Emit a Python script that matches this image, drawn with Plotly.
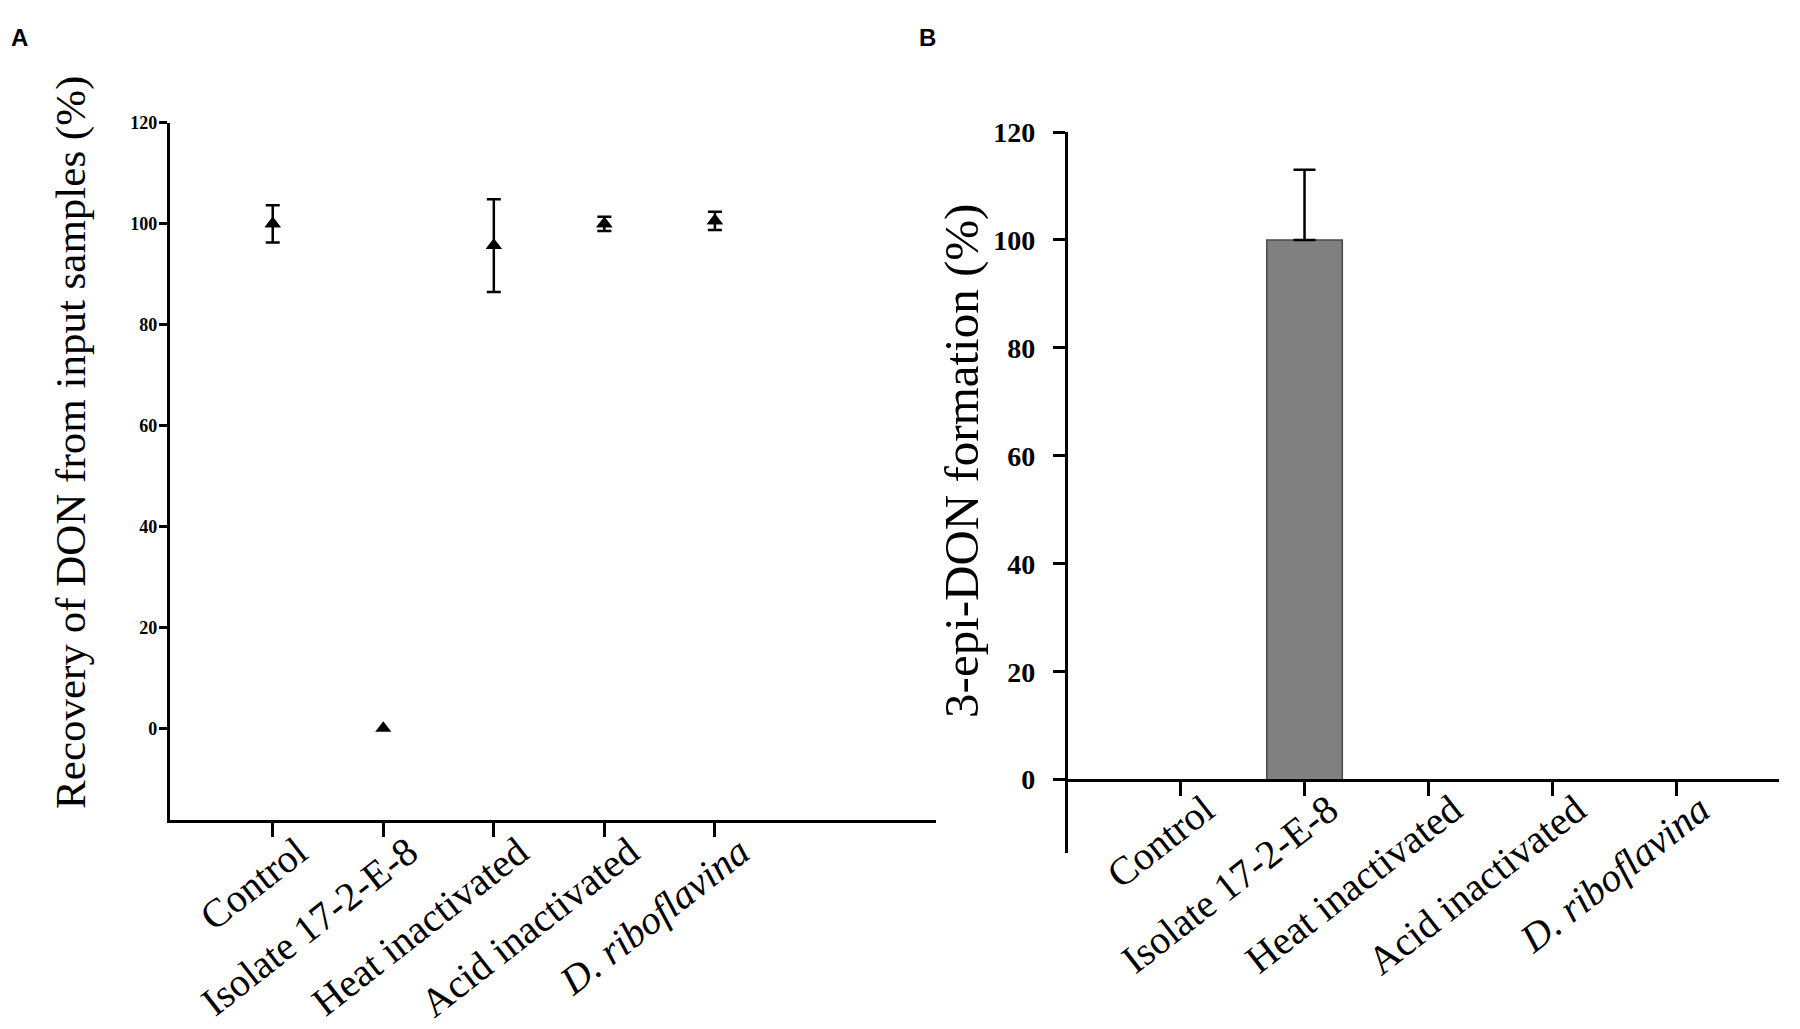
import plotly.graph_objects as go

# categories shared by both panels
categories = ["Control", "Isolate 17-2-E-8", "Heat inactivated", "Acid inactivated", "<i>D. riboflavina</i>"]

# panel A: recovery of DON (%)
recovery_mean = [100.0, 0.0, 95.7, 100.0, 100.6]
recovery_err = [3.7, None, 9.2, 1.4, 1.8]

# panel B: 3-epi-DON formation (%)
epi_mean = [0, 100, 0, 0, 0]
epi_err = [None, 13, None, None, None]

y_ticks = [0, 20, 40, 60, 80, 100, 120]

serif = "Liberation Serif"
ink = "black"

W, H = 1800, 1029

ya_range = [-18.2, 120]
yb_range = [-13.6, 120]
yb_dom = [0.1710, 0.8717]
# x axis of panel B sits at y = 0
xb_pos = yb_dom[0] + (0 - yb_range[0]) / (yb_range[1] - yb_range[0]) * (yb_dom[1] - yb_dom[0])

# only points that have an error value get an error bar
a_idx = [i for i, e in enumerate(recovery_err) if e is not None]
b_idx = [i for i, e in enumerate(epi_err) if e is not None]

fig = go.Figure()

fig.add_trace(go.Scatter(
    x=categories, y=recovery_mean, mode="markers",
    marker=dict(symbol="triangle-up", size=14, color=ink),
    xaxis="x", yaxis="y", showlegend=False, cliponaxis=False,
))
fig.add_trace(go.Scatter(
    x=[categories[i] for i in a_idx], y=[recovery_mean[i] for i in a_idx], mode="markers",
    marker=dict(symbol="triangle-up", size=14, color=ink),
    error_y=dict(type="data", array=[recovery_err[i] for i in a_idx], visible=True,
                 color=ink, thickness=2.5, width=7),
    xaxis="x", yaxis="y", showlegend=False, cliponaxis=False,
))

fig.add_trace(go.Bar(
    x=categories, y=epi_mean, width=0.61,
    marker=dict(color="#808080",
                line=dict(color="#4a4a4a", width=[1.5 if v > 0 else 0 for v in epi_mean])),
    xaxis="x2", yaxis="y2", showlegend=False,
))
fig.add_trace(go.Scatter(
    x=[categories[i] for i in b_idx], y=[epi_mean[i] for i in b_idx], mode="markers",
    marker=dict(size=1, opacity=0, color=ink),
    error_y=dict(type="data", array=[epi_err[i] for i in b_idx], symmetric=False,
                 arrayminus=[0] * len(b_idx), visible=True, color=ink, thickness=2.5, width=11),
    xaxis="x2", yaxis="y2", showlegend=False,
))

# automargin off: labels may hang into the zero margins without shrinking the plot areas
axis_common = dict(showline=True, linecolor=ink, linewidth=3, ticks="outside",
                   tickcolor=ink, tickwidth=2.5, showgrid=False, zeroline=False,
                   automargin=False)

fig.update_layout(
    width=W, height=H, autosize=False,
    margin=dict(l=0, r=0, t=0, b=0),
    paper_bgcolor="white", plot_bgcolor="white",
    xaxis=dict(domain=[0.0944, 0.52], anchor="y", range=[-0.93, 6.0], ticklen=14,
               tickangle=-38, ticklabelstandoff=-24, ticklabelshift=25,
               tickfont=dict(family=serif, size=40, color=ink), **axis_common),
    yaxis=dict(domain=[0.2031, 0.8805], anchor="x", range=ya_range, ticklen=8,
               tickvals=y_ticks, ticklabelstandoff=-2,
               tickfont=dict(family=serif, size=18, color=ink, weight="bold"), **axis_common),
    xaxis2=dict(domain=[0.5933, 0.9883], anchor="free", position=xb_pos, range=[-0.91, 4.83],
                ticklen=14, tickangle=-38, ticklabelstandoff=-25, ticklabelshift=24,
                tickfont=dict(family=serif, size=40, color=ink), **axis_common),
    yaxis2=dict(domain=yb_dom, anchor="x2", range=yb_range, ticklen=12,
                tickvals=y_ticks, ticklabelstandoff=12,
                tickfont=dict(family=serif, size=28, color=ink, weight="bold"), **axis_common),
    annotations=[
        dict(text="<b>A</b>", x=0.0108, y=0.9631, xref="paper", yref="paper", showarrow=False,
             xanchor="center", yanchor="middle",
             font=dict(family="Liberation Sans", size=24, color=ink)),
        dict(text="<b>B</b>", x=0.5155, y=0.9631, xref="paper", yref="paper", showarrow=False,
             xanchor="center", yanchor="middle",
             font=dict(family="Liberation Sans", size=24, color=ink)),
        dict(text="Recovery of DON from input samples (%)", textangle=-90,
             x=0.0394, y=0.5705, xref="paper", yref="paper", showarrow=False,
             xanchor="center", yanchor="middle",
             font=dict(family=serif, size=43, color=ink)),
        dict(text="3-epi-DON formation (%)", textangle=-90,
             x=0.5344, y=0.552, xref="paper", yref="paper", showarrow=False,
             xanchor="center", yanchor="middle",
             font=dict(family=serif, size=49, color=ink)),
    ],
)

# drop the default page margin so the figure fills the window exactly
fig.write_html("out.html", config={"displayModeBar": False}, post_script=(
    "document.body.style.margin='0';"
    "document.body.style.overflow='hidden';"
    "document.documentElement.style.overflow='hidden';"
))
